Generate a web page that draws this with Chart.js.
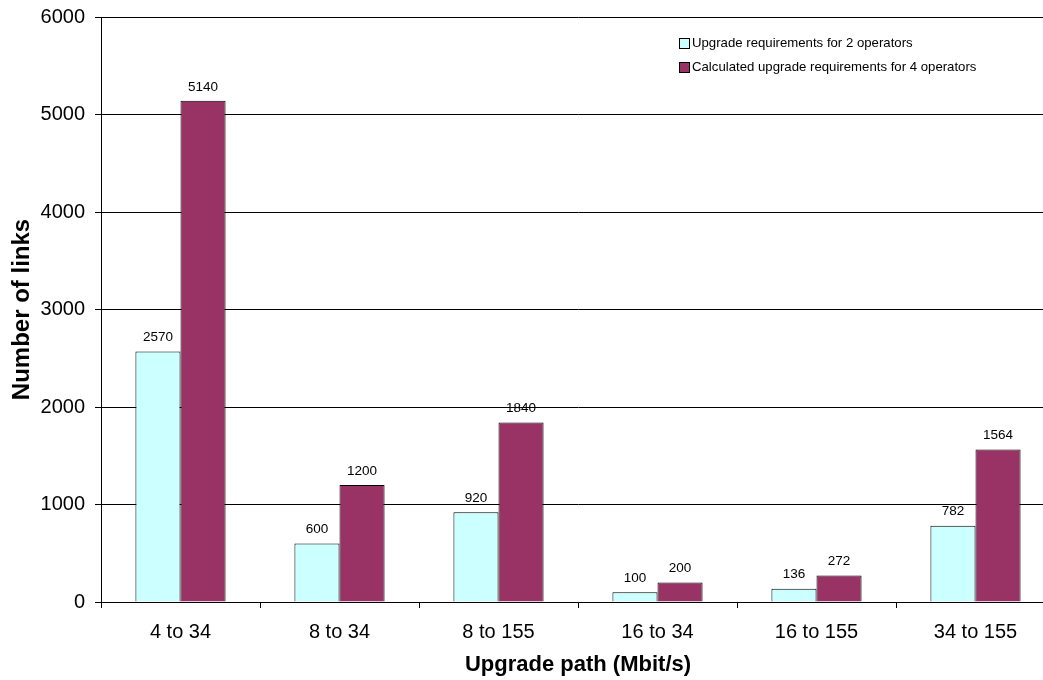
<!DOCTYPE html>
<html>
<head>
<meta charset="utf-8">
<script src="https://cdn.jsdelivr.net/npm/chart.js@4"></script>
<style>
  html, body { margin: 0; padding: 0; background: #fff; overflow: hidden; width: 1043px; height: 680px; }
  canvas { display: block; }
</style>
</head>
<body>
<canvas id="c" width="1055" height="680"></canvas>
<script>
const categories = ['4 to 34', '8 to 34', '8 to 155', '16 to 34', '16 to 155', '34 to 155'];
const twoOperators = [2570, 600, 920, 100, 136, 782];
const fourOperators = [5140, 1200, 1840, 200, 272, 1564];
const seriesNames = ['Upgrade requirements for 2 operators', 'Calculated upgrade requirements for 4 operators'];
const yTicks = [0, 1000, 2000, 3000, 4000, 5000, 6000];

const FONT = 'Arial, "Liberation Sans", sans-serif';

// Value labels above each bar
const barLabels = {
  id: 'barLabels',
  afterDatasetsDraw(chart) {
    const ctx = chart.ctx;
    ctx.save();
    ctx.fillStyle = '#000';
    ctx.font = '13.5px ' + FONT;
    ctx.textAlign = 'center';
    ctx.textBaseline = 'middle';
    chart.data.datasets.forEach((ds, i) => {
      chart.getDatasetMeta(i).data.forEach((bar, j) => {
        ctx.fillText(String(ds.data[j]), bar.x, bar.y - 14);
      });
    });
    ctx.restore();
  }
};

// Legend boxes drawn inside the plot, top right
const insideLegend = {
  id: 'insideLegend',
  afterDraw(chart) {
    const ctx = chart.ctx;
    ctx.save();
    ctx.font = '13.2px ' + FONT;
    ctx.textBaseline = 'middle';
    ctx.textAlign = 'left';
    chart.data.datasets.forEach((ds, i) => {
      const cy = 43.5 + i * 24;
      ctx.fillStyle = ds.backgroundColor;
      ctx.fillRect(679.5, cy - 5, 10, 10);
      ctx.strokeStyle = '#000';
      ctx.lineWidth = 1;
      ctx.strokeRect(679.5, cy - 5, 10, 10);
      ctx.fillStyle = '#000';
      ctx.fillText(ds.label, 692, cy);
    });
    ctx.restore();
  }
};

new Chart(document.getElementById('c'), {
  type: 'bar',
  data: {
    labels: categories,
    datasets: [
      { label: seriesNames[0], data: twoOperators, backgroundColor: '#CCFFFF', borderColor: '#000', borderWidth: 1 },
      { label: seriesNames[1], data: fourOperators, backgroundColor: '#993366', borderColor: '#000', borderWidth: 1 }
    ]
  },
  options: {
    responsive: false,
    animation: false,
    devicePixelRatio: 1,
    layout: { padding: { top: 17, right: 0, bottom: 0, left: 0 } },
    datasets: { bar: { categoryPercentage: 0.567, barPercentage: 1.0 } },
    plugins: { legend: { display: false }, tooltip: { enabled: false } },
    scales: {
      x: {
        offset: true,
        grid: { display: true, drawOnChartArea: false, drawTicks: true, tickLength: 6, color: '#000', offset: true },
        border: { display: true, color: '#000', width: 1 },
        ticks: { color: '#000', font: { family: FONT, size: 20 }, padding: 12, maxRotation: 0 },
        title: { display: true, text: 'Upgrade path (Mbit/s)', color: '#000', font: { family: FONT, size: 22, weight: 'bold' }, padding: { top: 0, bottom: 2 } },
        afterFit(scale) { scale.height = 78; }
      },
      y: {
        min: 0,
        max: 6000,
        afterBuildTicks(scale) { scale.ticks = yTicks.map(v => ({ value: v })); },
        grid: { color: '#000', lineWidth: 1, tickLength: 6, drawTicks: true },
        border: { display: true, color: '#000', width: 1 },
        ticks: { color: '#000', font: { family: FONT, size: 20 }, padding: 10, callback: v => String(v) },
        title: { display: true, text: 'Number of links', color: '#000', font: { family: FONT, size: 24, weight: 'bold' }, padding: { top: 8, bottom: 0 } },
        afterFit(scale) {
          scale.width = 101;
          scale.paddingTop = 0;
          scale.paddingBottom = 0;
        }
      }
    }
  },
  plugins: [barLabels, insideLegend]
});
</script>
</body>
</html>
